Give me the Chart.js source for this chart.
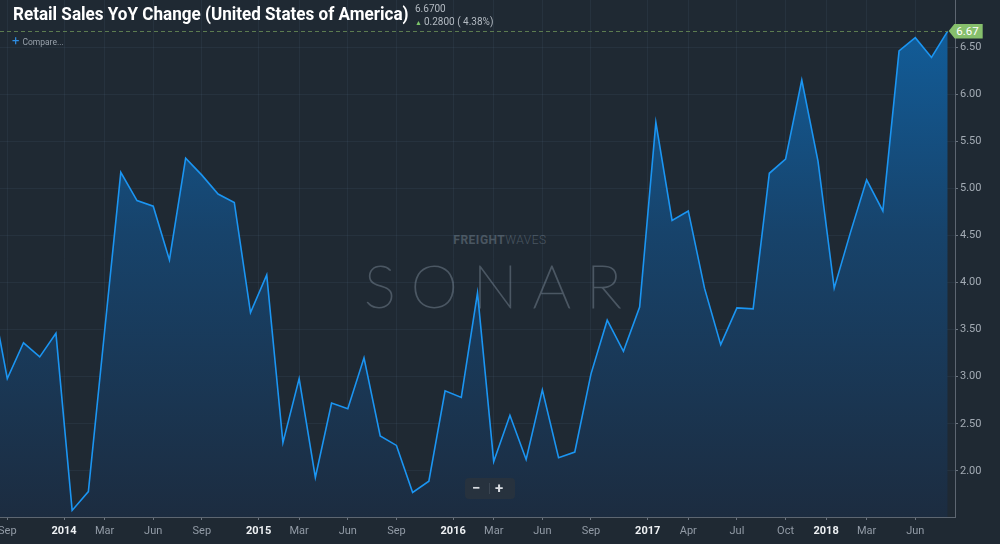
<!DOCTYPE html>
<html>
<head>
<meta charset="utf-8">
<script src="https://cdn.jsdelivr.net/npm/chart.js@4.4.0/dist/chart.umd.min.js"></script>
<style>
  html, body { margin: 0; padding: 0; background: #1f2933; }
  #wrap { position: relative; width: 1000px; height: 544px; overflow: hidden; background: #1f2933; font-family: Roboto, "Noto Sans", sans-serif; }
  #chart { position: absolute; left: 0; top: 0; }
  .wm-top { position: absolute; left: 432px; top: 233px; width: 136px; text-align: center; color: #4a5661; font-size: 12px; font-weight: 700; letter-spacing: 0.5px; }
  .wm-top span { font-weight: 300; }
  .wm-sonar { position: absolute; left: 364px; top: 250px; color: transparent; -webkit-text-stroke: 1px #4b5763; font-family: Lato, "DejaVu Sans", sans-serif; font-weight: 100; font-size: 60px; letter-spacing: 15px; line-height: 70px; }
  .title { position: absolute; left: 13px; top: 3px; color: #ffffff; font-weight: 700; font-size: 18.5px; white-space: nowrap; transform-origin: left top; }
  .last { position: absolute; left: 415px; top: 3px; color: #b3bac2; font-size: 10px; }
  .chg { position: absolute; left: 415px; top: 16px; color: #b3bac2; font-size: 10px; white-space: nowrap; }
  .chg b { color: #7cc46a; font-size: 7px; font-weight: 400; margin-right: 2px; }
  .compare { position: absolute; left: 12px; top: 33px; color: #98a1ab; font-size: 8.5px; white-space: nowrap; }
  .compare b { color: #2f8fe6; font-size: 13px; font-weight: 400; margin-right: 3px; }
  .badge { position: absolute; width: 34px; height: 15px; background: #86bf6c; color: #fff; font-size: 11.5px; line-height: 15px; text-align: right; padding-right: 4px; box-sizing: border-box; clip-path: polygon(0 50%, 6px 0, 100% 0, 100% 100%, 6px 100%); }
  .zoom { position: absolute; left: 465px; top: 478px; width: 50px; height: 21px; background: #27323e; border-radius: 4px; color: #d9dde2; font-size: 15px; font-weight: 700; line-height: 21px; }
  .zoom span { position: absolute; top: 0; }
  .zoom i { position: absolute; left: 24px; top: 5px; width: 1px; height: 11px; background: #3b4652; }
</style>
</head>
<body>
<div id="wrap">
  <div class="wm-top">FREIGHT<span>WAVES</span></div>
  <div class="wm-sonar">SONAR</div>
  <canvas id="chart" width="1000" height="544"></canvas>
  <div class="title" id="title">Retail Sales YoY Change (United States of America)</div>
  <div class="last" id="last"></div>
  <div class="chg" id="chg"></div>
  <div class="compare"><b>+</b>Compare...</div>
  <div class="badge" id="badge"></div>
  <div class="zoom"><span style="left:7px">&minus;</span><i></i><span style="left:30px">+</span></div>
</div>
<script>
// monthly retail sales, % change year over year (Aug 2013 .. Aug 2018)
const values = [
  3.90, 2.98, 3.36, 3.21, 3.46, 1.58, 1.78, 3.48, 5.17, 4.87,
  4.81, 4.24, 5.32, 5.14, 4.94, 4.85, 3.68, 4.08, 2.30, 2.98,
  1.93, 2.72, 2.66, 3.20, 2.37, 2.27, 1.77, 1.89, 2.85, 2.78,
  3.89, 2.10, 2.59, 2.12, 2.86, 2.14, 2.20, 3.03, 3.60, 3.27,
  3.74, 5.70, 4.66, 4.76, 3.94, 3.34, 3.73, 3.72, 5.16, 5.31,
  6.15, 5.29, 3.94, 4.53, 5.09, 4.76, 6.46, 6.60, 6.39, 6.67
];
const xTickAt = [1, 4.5, 7, 10, 13, 16.5, 19, 22, 25, 28.5, 31, 34, 37, 40.5, 43, 46, 49, 51.5, 54, 57];
const xTickLabels = ['Sep', '2014', 'Mar', 'Jun', 'Sep', '2015', 'Mar', 'Jun', 'Sep', '2016',
  'Mar', 'Jun', 'Sep', '2017', 'Apr', 'Jul', 'Oct', '2018', 'Mar', 'Jun'];
const yTicks = [2.0, 2.5, 3.0, 3.5, 4.0, 4.5, 5.0, 5.5, 6.0, 6.5];

const lastValue = values[values.length - 1];
const prevValue = values[values.length - 2];
const change = lastValue - prevValue;

const isYear = (i) => /^\d{4}$/.test(xTickLabels[i] || '');
const gridColor = 'rgba(120,150,185,0.085)';

// dashed line at the last value
const lastLine = {
  id: 'lastLine',
  afterDatasetsDraw(chart) {
    const y = chart.scales.y.getPixelForValue(lastValue);
    const x = chart.scales.x.getPixelForValue(values.length - 1);
    const c = chart.ctx;
    c.save();
    c.strokeStyle = '#5c7b50';
    c.lineWidth = 1;
    c.setLineDash([4, 3]);
    c.beginPath();
    c.moveTo(0, Math.round(y) + 0.5);
    c.lineTo(x, Math.round(y) + 0.5);
    c.stroke();
    c.restore();
  }
};

const ctx = document.getElementById('chart').getContext('2d');
const chart = new Chart(ctx, {
  type: 'line',
  data: {
    datasets: [{
      data: values.map((v, i) => ({ x: i, y: v })),
      borderColor: '#1b95f2',
      borderWidth: 1.6,
      pointRadius: 0,
      tension: 0,
      fill: 'start',
      backgroundColor: (c) => {
        const a = c.chart.chartArea;
        if (!a) return 'rgba(0,0,0,0)';
        const g = c.chart.ctx.createLinearGradient(0, a.top, 0, a.bottom);
        g.addColorStop(0, '#11609f');
        g.addColorStop(0.45, '#17436b');
        g.addColorStop(1, '#1c2c40');
        return g;
      }
    }]
  },
  options: {
    responsive: false,
    animation: false,
    layout: { padding: 0 },
    plugins: { legend: { display: false }, tooltip: { enabled: false } },
    scales: {
      x: {
        type: 'linear',
        min: 0.55,
        max: 59.45,
        afterBuildTicks: (s) => { s.ticks = xTickAt.map(v => ({ value: v })); },
        afterFit: (s) => { s.paddingLeft = 0; s.paddingRight = 0; s.height = 27; },
        grid: { color: gridColor, tickLength: 3, tickColor: '#6c7580' },
        border: { color: '#5d6671' },
        ticks: {
          autoSkip: false,
          maxRotation: 0,
          padding: 5,
          callback: (v, i) => xTickLabels[i],
          color: (c) => isYear(c.index) ? '#eef1f4' : '#929ba6',
          font: (c) => ({ family: 'Roboto', size: 11, weight: isYear(c.index) ? 'bold' : 'normal' })
        }
      },
      y: {
        position: 'right',
        min: 1.51,
        max: 7.0,
        afterBuildTicks: (s) => { s.ticks = yTicks.map(v => ({ value: v })); },
        afterFit: (s) => { s.paddingTop = 0; s.paddingBottom = 0; s.width = 45; },
        grid: { color: gridColor, tickLength: 3, tickColor: '#6c7580' },
        border: { color: '#5d6671' },
        ticks: {
          padding: 2,
          color: '#a3abb4',
          font: { family: 'Roboto', size: 11 },
          callback: (v) => Number(v).toFixed(2)
        }
      }
    }
  },
  plugins: [lastLine]
});

// header texts and the last value badge
document.getElementById('last').textContent = lastValue.toFixed(4);
document.getElementById('chg').innerHTML = '<b>&#9650;</b>' + change.toFixed(4) + ' ( ' + (change / prevValue * 100).toFixed(2) + '%)';
const title = document.getElementById('title');
title.style.transform = 'scaleX(' + (396 / title.scrollWidth) + ')';
const badge = document.getElementById('badge');
badge.textContent = lastValue.toFixed(2);
badge.style.left = (chart.scales.x.getPixelForValue(values.length - 1) + 1) + 'px';
badge.style.top = (chart.scales.y.getPixelForValue(lastValue) - 7.5) + 'px';
</script>
</body>
</html>
